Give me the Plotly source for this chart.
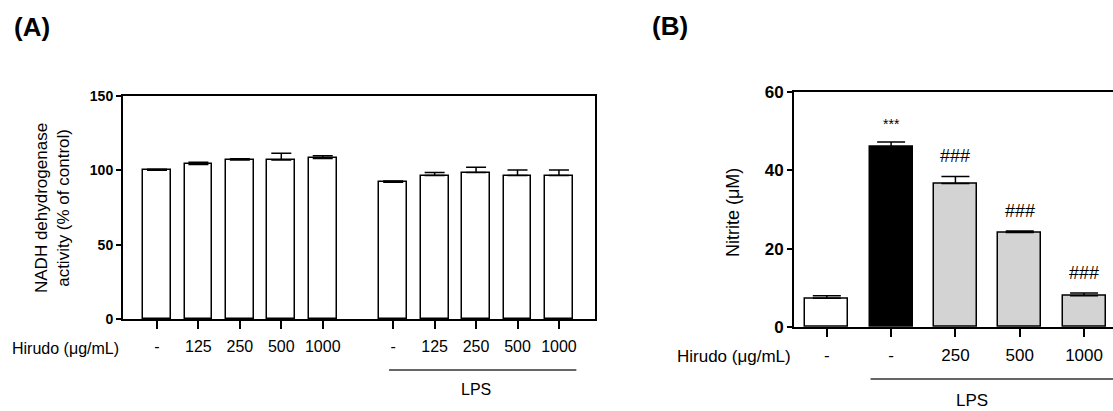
import plotly.graph_objects as go

W, H = 1113, 411
FONT = "Arial, Liberation Sans, sans-serif"

# ---------------- data ----------------
a_labels = ["-", "125", "250", "500", "1000", "-", "125", "250", "500", "1000"]
a_group = [0, 0, 0, 0, 0, 1, 1, 1, 1, 1]          # 0 = no LPS, 1 = LPS
a_values = [100, 104, 107, 107, 108, 92, 96.5, 98.5, 96.5, 96.5]
a_err = [0.7, 1.5, 0.8, 4.5, 1.8, 0.8, 2.0, 3.5, 3.8, 3.8]
a_yticks = [0, 50, 100, 150]

b_labels = ["-", "-", "250", "500", "1000"]
b_lps = [0, 1, 1, 1, 1]
b_values = [7.3, 45.9, 36.6, 24.1, 8.0]
b_err = [0.7, 1.3, 1.8, 0.4, 0.7]
b_sig = ["", "***", "###", "###", "###"]
b_colors = ["white", "black", "#d3d3d3", "#d3d3d3", "#d3d3d3"]
b_yticks = [0, 20, 40, 60]

GAP = 0.7
a_x = [i + GAP * g for i, g in enumerate(a_group)]
b_x = list(range(len(b_values)))

fig = go.Figure()

fig.add_trace(go.Bar(
    x=a_x, y=a_values, width=0.67,
    marker=dict(color="white", line=dict(color="black", width=1.5)),
    error_y=dict(type="data", symmetric=False, array=a_err,
                 arrayminus=[0] * len(a_err), color="black",
                 thickness=1.5, width=10),
    xaxis="x", yaxis="y", showlegend=False))

fig.add_trace(go.Bar(
    x=b_x, y=b_values, width=0.67,
    marker=dict(color=b_colors, line=dict(color="black", width=1.5)),
    error_y=dict(type="data", symmetric=False, array=b_err,
                 arrayminus=[0] * len(b_err), color="black",
                 thickness=1.5, width=14),
    xaxis="x2", yaxis="y2", showlegend=False))

def px_x(p):
    return p / W

def px_y(p):
    return 1 - p / H

axis_common = dict(showline=True, linecolor="black", linewidth=2,
                   showgrid=False, zeroline=False, ticks="outside",
                   tickcolor="black", tickwidth=2, automargin=False)

fig.update_layout(
    template="none",
    width=W, height=H, margin=dict(l=0, r=0, t=0, b=0, pad=0),
    paper_bgcolor="white", plot_bgcolor="white",
    font=dict(family=FONT, color="black"),
    bargap=0,
    xaxis=dict(domain=[px_x(123), px_x(595)], range=[-0.82, a_x[-1] + 0.87],
               tickvals=a_x, ticktext=a_labels, ticklen=8, mirror=True,
               tickfont=dict(size=16), ticklabelstandoff=4,
               anchor="y", **axis_common),
    yaxis=dict(domain=[px_y(319), px_y(96)], range=[0, 150],
               tickvals=a_yticks, ticklen=5, mirror=True,
               tickfont=dict(size=14, weight="bold"),
               anchor="x", **axis_common),
    xaxis2=dict(domain=[px_x(794), 1.0], range=[-0.51, 4.45],
                tickvals=b_x, ticktext=b_labels, ticklen=8, mirror=True,
                tickfont=dict(size=17), ticklabelstandoff=4,
                anchor="y2", **axis_common),
    yaxis2=dict(domain=[px_y(327), px_y(91.7)], range=[0, 60],
                tickvals=b_yticks, ticklen=5, mirror=False,
                tickfont=dict(size=17, weight="bold"),
                anchor="x2", **axis_common),
)

ann = []
# panel letters
ann.append(dict(text="<b>(A)</b>", x=px_x(12), y=px_y(27), xref="paper", yref="paper",
                xanchor="left", yanchor="middle", showarrow=False, font=dict(size=26)))
ann.append(dict(text="<b>(B)</b>", x=px_x(650), y=px_y(26), xref="paper", yref="paper",
                xanchor="left", yanchor="middle", showarrow=False, font=dict(size=26)))
# y titles
ann.append(dict(text="NADH dehydrogenase<br>activity (% of control)", x=px_x(52), y=px_y(208),
                xref="paper", yref="paper", textangle=-90, showarrow=False,
                font=dict(size=17), xanchor="center", yanchor="middle"))
ann.append(dict(text="Nitrite (μM)", x=px_x(733), y=px_y(213),
                xref="paper", yref="paper", textangle=-90, showarrow=False,
                font=dict(size=18), xanchor="center", yanchor="middle"))
# Hirudo labels
ann.append(dict(text="Hirudo (μg/mL)", x=px_x(10), y=px_y(348), xref="paper", yref="paper",
                xanchor="left", yanchor="middle", showarrow=False, font=dict(size=16)))
ann.append(dict(text="Hirudo (μg/mL)", x=px_x(675), y=px_y(356), xref="paper", yref="paper",
                xanchor="left", yanchor="middle", showarrow=False, font=dict(size=17)))
# LPS labels
a_lps_x = [x for x, g in zip(a_x, a_group) if g == 1]
ann.append(dict(text="LPS", x=(a_lps_x[0] + a_lps_x[-1]) / 2, y=px_y(389), xref="x", yref="paper",
                showarrow=False, font=dict(size=16), yanchor="middle"))
ann.append(dict(text="LPS", x=px_x(990), y=px_y(400), xref="paper", yref="paper",
                showarrow=False, font=dict(size=17), yanchor="middle"))
# significance marks
for x, v, e, s in zip(b_x, b_values, b_err, b_sig):
    if s:
        ann.append(dict(text=s, x=x, y=v + e, xref="x2", yref="y2", yanchor="bottom",
                        yshift=8, showarrow=False,
                        font=dict(size=14 if s.startswith("*") else 18)))
fig.update_layout(annotations=ann)

# LPS underline shapes
b_lps_x = [x for x, g in zip(b_x, b_lps) if g == 1]
fig.add_shape(type="line", xref="x", yref="paper",
              x0=a_lps_x[0] - 0.1, x1=a_lps_x[-1] + 0.42,
              y0=px_y(370), y1=px_y(370), line=dict(color="#333333", width=1.5))
fig.add_shape(type="line", xref="x2", yref="paper",
              x0=b_lps_x[0] - 0.32, x1=b_lps_x[-1] + 0.6,
              y0=px_y(379), y1=px_y(379), line=dict(color="#333333", width=1.5))

fig.write_html("out.html", config={"displayModeBar": False},
               post_script="document.body.style.margin='0';document.body.style.overflow='hidden';")
